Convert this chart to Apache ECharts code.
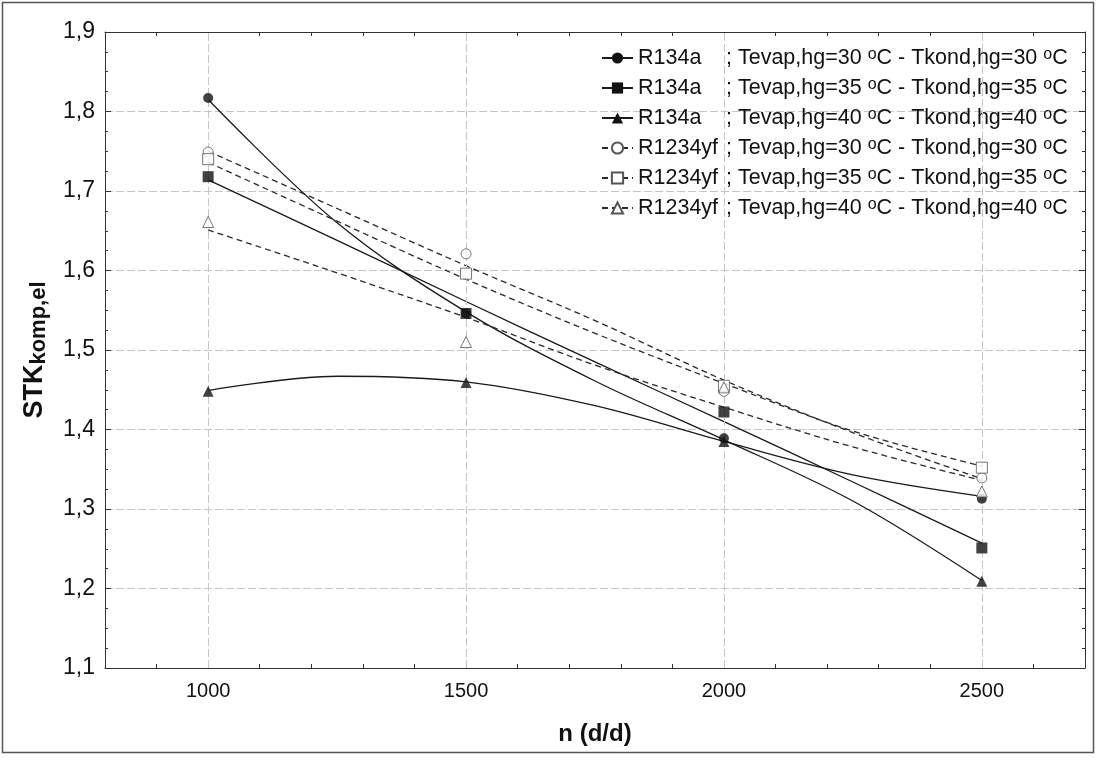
<!DOCTYPE html>
<html>
<head>
<meta charset="utf-8">
<script src="https://cdn.jsdelivr.net/npm/echarts@6/dist/echarts.min.js"></script>
<style>
html,body{margin:0;padding:0;background:#ffffff;}
#chart{width:1097px;height:760px;}
</style>
</head>
<body>
<div id="chart"></div>
<script>
// ---------- data ----------
const xMeasured = [1000, 1500, 2000, 2500];          // measured speeds n (d/d)
const xCurve = [1000, 1250, 1500, 1750, 2000, 2250, 2500]; // where fitted curves were read
const xLabelValues = [1000, 1500, 2000, 2500];

const refrigerants = ['R134a', 'R134a', 'R134a', 'R1234yf', 'R1234yf', 'R1234yf'];
const temps = [30, 35, 40, 30, 35, 40];

// measured points (markers)
const pts_R134a_30 = [1.817, 1.546, 1.389, 1.313];
const pts_R134a_35 = [1.718, 1.546, 1.422, 1.251];
const pts_R134a_40 = [1.448, 1.459, 1.385, 1.209];
const pts_R1234yf_30 = [1.749, 1.621, 1.448, 1.339];
const pts_R1234yf_35 = [1.740, 1.596, 1.455, 1.352];
const pts_R1234yf_40 = [1.661, 1.510, 1.453, 1.322];

// fitted curves as drawn
const fit_R134a_30 = [1.815, 1.660, 1.548, 1.461, 1.387, 1.310, 1.210];
const fit_R134a_35 = [1.714, 1.638, 1.561, 1.485, 1.410, 1.334, 1.257];
const fit_R134a_40 = [1.449, 1.467, 1.460, 1.430, 1.385, 1.343, 1.316];
const fit_R1234yf_30 = [1.750, 1.678, 1.606, 1.537, 1.462, 1.396, 1.338];
const fit_R1234yf_35 = [1.736, 1.662, 1.589, 1.521, 1.458, 1.398, 1.354];
const fit_R1234yf_40 = [1.651, 1.597, 1.541, 1.481, 1.428, 1.378, 1.336];

const yMin = 1.1, yMax = 1.9, yStep = 0.1;
const xMin = 800, xMax = 2700, xStep = 100;

// ---------- styling ----------
const pointSets = [pts_R134a_30, pts_R134a_35, pts_R134a_40, pts_R1234yf_30, pts_R1234yf_35, pts_R1234yf_40];
const fitSets = [fit_R134a_30, fit_R134a_35, fit_R134a_40, fit_R1234yf_30, fit_R1234yf_35, fit_R1234yf_40];
const symbols = ['circle', 'rect', 'triangle', 'circle', 'rect', 'triangle'];
const symSizes = [10, 11, 11, 10, 11, 11];
const hollow = [false, false, false, true, true, true];

const FONT = "'Liberation Sans', Arial, sans-serif";
const gridLine = { color: '#c6c6c6', type: [8, 3], width: 1 };
const axisColor = '#333';

const names = refrigerants.map((r, i) => r + ' ' + temps[i]);
const legendLabel = {};
names.forEach((n, i) => {
  legendLabel[n] = '{n|' + refrigerants[i] + '}{t|; Tevap,hg=' + temps[i] + ' }{s|o}{t|C - Tkond,hg=' + temps[i] + ' }{s|o}{t|C}';
});

const series = [];
// vertical grid lines
series.push({
  name: 'grid', type: 'line', data: [], silent: true, z: 1,
  markLine: {
    silent: true, symbol: ['none', 'none'], label: { show: false },
    lineStyle: gridLine, animation: false,
    data: xLabelValues.map(v => ({ xAxis: v }))
  }
});

names.forEach((n, i) => {
  const isH = hollow[i];
  const item = isH
    ? { color: '#ffffff', borderColor: '#555', borderWidth: 1 }
    : { color: '#111111', borderColor: '#111111', borderWidth: 0 };
  series.push({
    name: n, type: 'line', smooth: 0.35,
    symbol: symbols[i], symbolSize: symSizes[i], showSymbol: false,
    data: xCurve.map((x, k) => [x, fitSets[i][k]]),
    lineStyle: isH ? { color: '#2a2a2a', width: 1.3, type: [6, 4] } : { color: '#1a1a1a', width: 1.3, type: 'solid' },
    itemStyle: item, z: 3, silent: true
  });
});
names.forEach((n, i) => {
  series.push({
    name: n, type: 'scatter',
    symbol: symbols[i], symbolSize: symSizes[i],
    data: xMeasured.map((x, k) => [x, pointSets[i][k]]),
    itemStyle: hollow[i] ? { color: '#ffffff', borderColor: '#555', borderWidth: 1 } : { color: '#111111' },
    z: 5, silent: true
  });
});

function yFmt(v) { return v.toFixed(1).replace('.', ','); }

const chart = echarts.init(document.getElementById('chart'), null, { renderer: 'canvas' });
chart.setOption({
  animation: false,
  backgroundColor: '#ffffff',
  grid: { left: 105, right: 12, top: 32, bottom: 92, containLabel: false, outerBoundsMode: 'none' },
  graphic: [{
    type: 'rect', silent: true, z: 0,
    shape: { x: 2.5, y: 2.5, width: 1091, height: 750 },
    style: { fill: 'none', stroke: '#555', lineWidth: 1.5 }
  }],
  legend: {
    data: names, orient: 'vertical', left: 596, top: 42,
    itemWidth: 31, itemHeight: 14, itemGap: 8, itemTextGap: 12,
    formatter: n => legendLabel[n],
    textStyle: {
      color: '#111', fontFamily: FONT, fontSize: 21.5,
      rich: {
        n: { fontFamily: FONT, fontSize: 21.5, color: '#111', width: 88, lineHeight: 22 },
        t: { fontFamily: FONT, fontSize: 21.5, color: '#111', lineHeight: 22 },
        s: { fontFamily: FONT, fontSize: 16, color: '#111', lineHeight: 10, verticalAlign: 'top' }
      }
    }
  },
  xAxis: [{
    type: 'value', min: xMin, max: xMax, interval: xStep, position: 'bottom',
    axisLine: { show: true, lineStyle: { color: axisColor, width: 1 } },
    axisTick: { show: true, inside: true, length: 4, lineStyle: { color: axisColor } },
    splitLine: { show: false },
    axisLabel: {
      show: true, margin: 13, color: '#111', fontFamily: FONT, fontSize: 20,
      formatter: v => (xLabelValues.indexOf(v) >= 0 ? String(v) : '')
    },
    name: 'n (d/d)', nameLocation: 'middle', nameGap: 54,
    nameTextStyle: { color: '#111', fontFamily: FONT, fontSize: 24, fontWeight: 'bold' }
  }, {
    type: 'value', min: xMin, max: xMax, interval: xStep, position: 'top',
    axisLine: { show: true, lineStyle: { color: axisColor, width: 1 } },
    axisTick: { show: true, inside: true, length: 4, lineStyle: { color: axisColor } },
    splitLine: { show: false }, axisLabel: { show: false }
  }],
  yAxis: [{
    type: 'value', min: yMin, max: yMax, interval: yStep, position: 'left',
    axisLine: { show: true, lineStyle: { color: axisColor, width: 1 } },
    axisTick: { show: true, inside: true, length: 6, lineStyle: { color: axisColor } },
    minorTick: { show: true, splitNumber: 4, length: 3, lineStyle: { color: axisColor } },
    splitLine: { show: true, lineStyle: gridLine },
    axisLabel: { margin: 10, color: '#111', fontFamily: FONT, fontSize: 23, formatter: yFmt },
    name: '{a|STK}{b|komp,el}', nameLocation: 'middle', nameGap: 55, nameRotate: 90,
    nameTextStyle: {
      rich: {
        a: { fontFamily: FONT, fontSize: 27, fontWeight: 'bold', color: '#111', lineHeight: 30 },
        b: { fontFamily: FONT, fontSize: 22, fontWeight: 'bold', color: '#111', lineHeight: 24, verticalAlign: 'bottom' }
      }
    }
  }, {
    type: 'value', min: yMin, max: yMax, interval: yStep, position: 'right',
    axisLine: { show: true, lineStyle: { color: axisColor, width: 1 } },
    axisTick: { show: true, inside: true, length: 6, lineStyle: { color: axisColor } },
    minorTick: { show: true, splitNumber: 4, length: 3, lineStyle: { color: axisColor } },
    splitLine: { show: false }, axisLabel: { show: false }
  }],
  series: series
});
</script>
</body>
</html>
